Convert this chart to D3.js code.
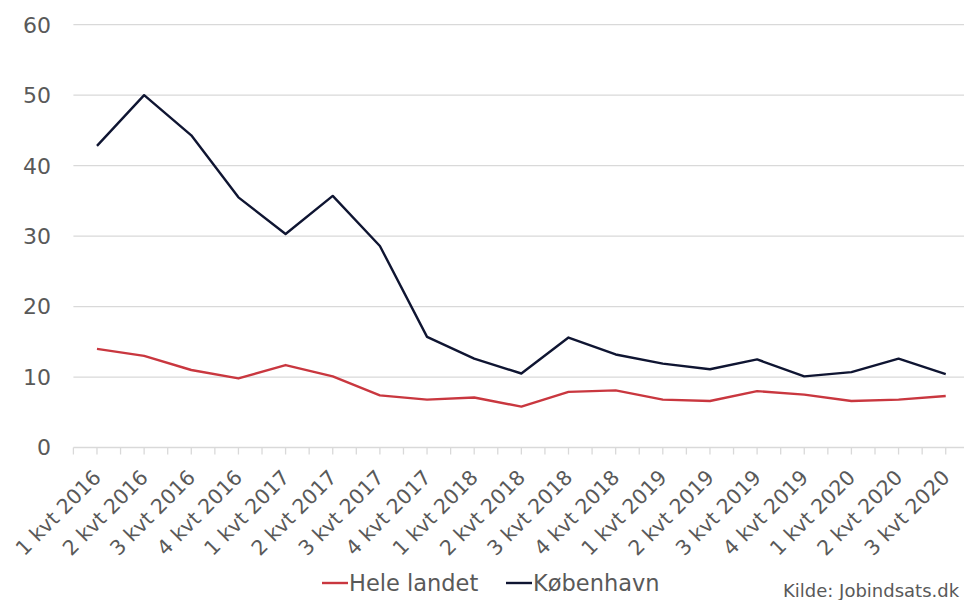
<!DOCTYPE html>
<html>
<head>
<meta charset="utf-8">
<script src="https://cdn.jsdelivr.net/npm/d3@7"></script>
<style>
  html, body { margin: 0; padding: 0; background: #fff; }
  svg { display: block; }
  text { font-family: "DejaVu Sans", "Open Sans", sans-serif; fill: #595959; }
</style>
</head>
<body>
<svg id="chart" width="964" height="600"></svg>
<script>
const categories = ["1 kvt 2016","2 kvt 2016","3 kvt 2016","4 kvt 2016","1 kvt 2017","2 kvt 2017","3 kvt 2017","4 kvt 2017","1 kvt 2018","2 kvt 2018","3 kvt 2018","4 kvt 2018","1 kvt 2019","2 kvt 2019","3 kvt 2019","4 kvt 2019","1 kvt 2020","2 kvt 2020","3 kvt 2020"];
const heleLandet = [14.0,13.0,11.0,9.8,11.7,10.1,7.4,6.8,7.1,5.8,7.9,8.1,6.8,6.6,8.0,7.5,6.6,6.8,7.3];
const koebenhavn = [42.8,50.0,44.3,35.5,30.3,35.7,28.6,15.7,12.6,10.5,15.6,13.2,11.9,11.1,12.5,10.1,10.7,12.6,10.4];
const yTicks = [0,10,20,30,40,50,60];
const seriesNames = ["Hele landet","København"];
const seriesColors = ["#c9373f","#0f1532"];
const source = "Kilde: Jobindsats.dk";

const svg = d3.select("#chart");
const mLeft = 73.4, mRight = 969.3, mTop = 24.7, mBottom = 447.5;

const x = d3.scalePoint().domain(categories).range([mLeft, mRight]).padding(0.5);
const step = x.step();
const y = d3.scaleLinear().domain([0, 60]).range([mBottom, mTop]);

// gridlines
svg.append("g").selectAll("line").data(yTicks.filter(d => d > 0)).join("line")
  .attr("x1", mLeft).attr("x2", 964)
  .attr("y1", d => y(d)).attr("y2", d => y(d))
  .attr("stroke", "#d9d9d9").attr("stroke-width", 1.3);

// y labels
svg.append("g").selectAll("text").data(yTicks).join("text")
  .attr("x", 51).attr("y", d => y(d)).attr("dy", "0.36em")
  .attr("text-anchor", "end").attr("font-size", 22)
  .text(d => d);

// x axis line
svg.append("line").attr("x1", mLeft).attr("x2", 964).attr("y1", mBottom).attr("y2", mBottom)
  .attr("stroke", "#d9d9d9").attr("stroke-width", 1.3);
const tickPos = [];
categories.forEach(c => { tickPos.push(x(c) - step / 2); tickPos.push(x(c)); });
tickPos.push(x(categories[categories.length - 1]) + step / 2);
svg.append("g").selectAll("line").data(tickPos.filter(p => p <= 964)).join("line")
  .attr("x1", d => d).attr("x2", d => d).attr("y1", mBottom).attr("y2", mBottom + 7)
  .attr("stroke", "#d9d9d9").attr("stroke-width", 1.3);

// x labels
svg.append("g").selectAll("text").data(categories).join("text")
  .attr("transform", d => `translate(${x(d) - 5},${mBottom + 21}) rotate(-45)`)
  .attr("text-anchor", "end").attr("dy", "0.7em").attr("font-size", 20.5)
  .text(d => d);

// lines
const line = d3.line().x((d, i) => x(categories[i])).y(d => y(d));
[heleLandet, koebenhavn].forEach((s, i) => {
  svg.append("path").datum(s).attr("d", line)
    .attr("fill", "none").attr("stroke", seriesColors[i])
    .attr("stroke-width", 2.4).attr("stroke-linejoin", "round");
});

// legend
const legendX = [322, 506];
seriesNames.forEach((n, i) => {
  svg.append("line").attr("x1", legendX[i]).attr("x2", legendX[i] + 26)
    .attr("y1", 583).attr("y2", 583).attr("stroke", seriesColors[i]).attr("stroke-width", 2.4);
  svg.append("text").attr("x", legendX[i] + 27).attr("y", 583).attr("dy", "0.36em")
    .attr("font-size", 22.5).text(n);
});

svg.append("text").attr("x", 783).attr("y", 597).attr("font-size", 18).text(source);
</script>
</body>
</html>
